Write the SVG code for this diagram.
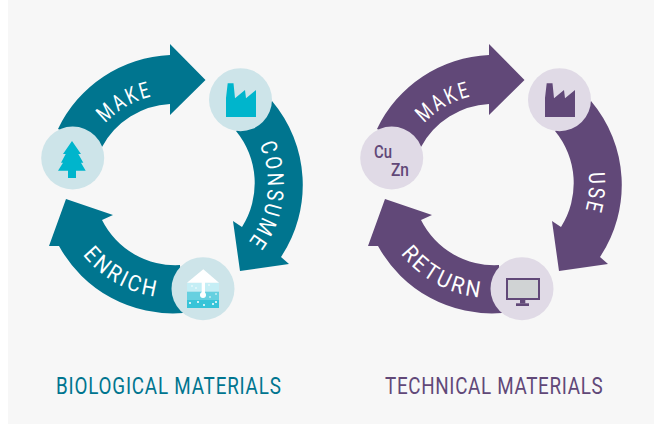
<svg xmlns="http://www.w3.org/2000/svg" width="654" height="424" viewBox="0 0 654 424">
<style>
.label{font-family:"Roboto","Liberation Sans",sans-serif;font-size:22.5px;fill:#fff;letter-spacing:3px;text-anchor:middle}
.title{font-family:"Roboto","Liberation Sans",sans-serif;font-size:23.5px}
.metal{font-family:"Roboto","Liberation Sans",sans-serif;font-size:19px;font-weight:500}
.bio{fill:#00758f}.tec{fill:#614878}
.bioc{fill:#cde4e9}.tecc{fill:#e0dae6}
.ico{fill:#00b5cc}
.sp{fill:#fff}
</style>
<defs>
<path id="cw90" d="M-77.9,-45A90,90 0 0 1 77.9,-45"/>
<path id="cw96" d="M-83.1,-48A96,96 0 0 1 83.1,-48"/>
<path id="cw98" d="M-84.9,-49A98,98 0 0 1 84.9,-49"/>
<path id="ccw" d="M-98.7,57A114,114 0 0 0 98.7,57"/>
<path id="a1" d="M58,129A130,130 0 0 1 170,55L170,44L205.5,80L170,115L170,104A82,82 0 0 0 102,147Z"/>
<path id="a2" d="M272,101A130,130 0 0 1 281,257L289,264L240,271L233,221L242,227A82,82 0 0 0 236,131Z"/>
<path id="a3" d="M183,313A130,130 0 0 1 59,246L49,246L66,199L113,215L102,220A82,82 0 0 0 180,265Z"/>
<polygon id="factory" points="226,117 226,98 227.7,83.3 233.5,83.3 235,98.3 245,90 246,98.3 256,90 256,117"/>
</defs>
<rect width="654" height="424" fill="#fff"/>
<rect x="8" width="646" height="424" fill="#f7f7f7"/>
<g id="connectors">
<g class="bio"><use href="#a1"/><use href="#a2"/><use href="#a3"/></g>
<g class="tec" transform="translate(319,0)"><use href="#a1"/><use href="#a2"/><use href="#a3"/></g>
</g>
<g id="arrow-labels">
<text class="label" transform="translate(172,184) rotate(-30)"><textPath href="#cw90" startOffset="50%" textLength="56" lengthAdjust="spacingAndGlyphs">MAKE</textPath></text>
<text class="label" transform="translate(172,184) rotate(97)"><textPath href="#cw96" startOffset="50%" textLength="105" lengthAdjust="spacingAndGlyphs">CONSUME</textPath></text>
<text class="label" transform="translate(172,184) rotate(29.5)"><textPath href="#ccw" startOffset="50%" textLength="88" lengthAdjust="spacingAndGlyphs">ENRICH</textPath></text>
<text class="label" transform="translate(491,184) rotate(-30)"><textPath href="#cw90" startOffset="50%" textLength="56" lengthAdjust="spacingAndGlyphs">MAKE</textPath></text>
<text class="label" transform="translate(491,184) rotate(95)"><textPath href="#cw98" startOffset="50%" textLength="40" lengthAdjust="spacingAndGlyphs">USE</textPath></text>
<text class="label" transform="translate(491,184) rotate(28.5)"><textPath href="#ccw" startOffset="50%" textLength="95" lengthAdjust="spacingAndGlyphs">RETURN</textPath></text>
</g>
<g id="bio-tree"><circle class="bioc" cx="72.7" cy="158" r="31.5"/>
<polygon class="ico" points="72,141 81,154 78.3,154 83.3,162.7 81,162.7 85.7,170.7 76,170.7 76,178 68,178 68,170.7 58,170.7 63,162.7 61,162.7 65.7,154 63,154"/></g>
<g id="bio-factory"><circle class="bioc" cx="240.5" cy="99.7" r="31.5"/><use href="#factory" class="ico"/></g>
<g id="bio-enrich"><circle class="bioc" cx="203" cy="288.7" r="31.5"/>
<rect x="187" y="282.7" width="32" height="9" fill="#c5eef5"/>
<rect x="187" y="291.7" width="32" height="8.3" fill="#66d0e0"/>
<rect x="187" y="300" width="32" height="8" fill="#38c4d8"/>
<polygon class="sp" points="203.3,269.3 219,282.7 187,282.7"/>
<rect class="sp" x="201.7" y="282" width="3.3" height="12"/>
<circle class="sp" cx="203" cy="295" r="3"/>
<g class="sp"><circle cx="192" cy="286" r=".8"/><circle cx="196" cy="288" r=".8"/><circle cx="209" cy="285" r=".8"/><circle cx="216" cy="294" r=".8"/><circle cx="210" cy="297" r=".8"/><circle cx="190" cy="303" r="1"/><circle cx="198" cy="302" r="1"/><circle cx="204" cy="305" r="1"/><circle cx="213" cy="304" r="1"/><circle cx="216" cy="302" r="1"/></g></g>
<g id="tec-metals"><circle class="tecc" cx="391.7" cy="158" r="31.5"/>
<text class="metal tec" x="374" y="157.5" textLength="18" lengthAdjust="spacingAndGlyphs">Cu</text>
<text class="metal tec" x="391" y="175.5" textLength="18" lengthAdjust="spacingAndGlyphs">Zn</text></g>
<g id="tec-factory"><circle class="tecc" cx="559.5" cy="99.7" r="31.5"/><use href="#factory" class="tec" x="319"/></g>
<g id="tec-monitor"><circle class="tecc" cx="522" cy="288.7" r="31.5"/>
<rect class="tec" x="506" y="278" width="34" height="22"/><rect x="508" y="280" width="30" height="18" fill="#d0d3d4"/>
<rect class="tec" x="520" y="300" width="5.3" height="3.5"/><rect class="tec" x="516" y="303.3" width="13" height="2.7"/></g>
<text id="title-bio" class="title bio" transform="translate(56,394) scale(.8,1)" textLength="281">BIOLOGICAL MATERIALS</text>
<text id="title-tec" class="title tec" transform="translate(385,394) scale(.8,1)" textLength="272">TECHNICAL MATERIALS</text>
</svg>
